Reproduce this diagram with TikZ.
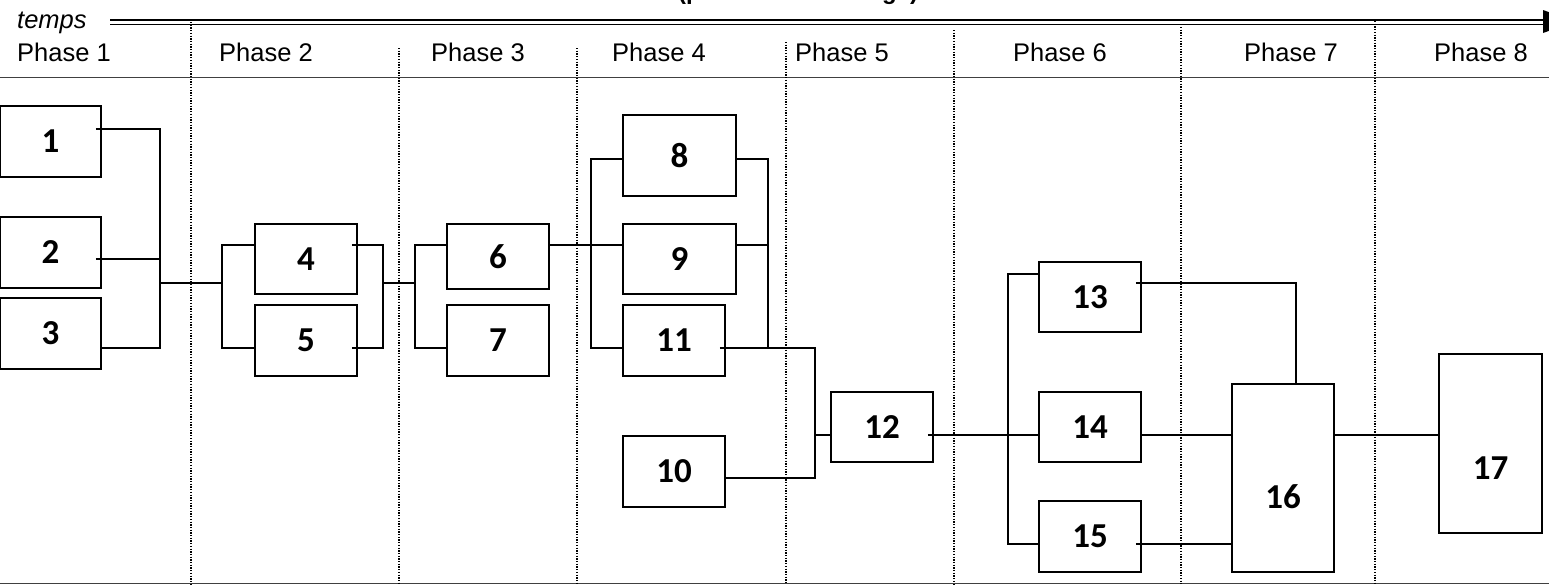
\documentclass[tikz,border=0pt]{standalone}
\usepackage{fontspec}
\setmainfont{Liberation Sans}
\newfontfamily\numfont{Carlito}
\usetikzlibrary{calc}
\begin{document}
\begin{tikzpicture}[x=1pt,y=-1pt,
  box/.style={draw, line width=1.8pt, inner sep=0pt, font=\numfont\bfseries\fontsize{35}{35}\selectfont},
  boxtext/.style={inner sep=0pt, font=\numfont\bfseries\fontsize{35}{35}\selectfont},
  conn/.style={line width=1.5pt},
  thickseg/.style={line width=2.3pt},
  divider/.style={line width=1.3pt, dash pattern=on 1.3pt off 1.4pt},
  phaselbl/.style={anchor=base west, inner sep=0pt, font=\fontsize{25.5}{26}\selectfont},
  rule/.style={line width=1pt, black!75}]
\useasboundingbox (0,0) rectangle (1549,584);

% ---- header ----
\node[anchor=base west, inner sep=0pt, font=\bfseries\fontsize{24}{24}\selectfont] (title) at (678,-1) {(phases de montage)};
\node[anchor=base west, inner sep=0pt, font=\itshape\fontsize{25.5}{26}\selectfont] (temps) at (17,28) {temps};
\coordinate (ta) at (110,20);
\coordinate (tb) at (1545,20);
\coordinate (tc) at (110,24.5);
\coordinate (td) at (1545,24.5);
\draw[line width=2pt] (ta) -- (tb);
\draw[line width=1.3pt] (tc) -- (td);
\fill (1543,10) -- (1575,21.5) -- (1543,33) -- cycle;

\node[phaselbl] (p1) at (17,61) {Phase 1};
\node[phaselbl] (p2) at (219,61) {Phase 2};
\node[phaselbl] (p3) at (431,61) {Phase 3};
\node[phaselbl] (p4) at (612,61) {Phase 4};
\node[phaselbl] (p5) at (795,61) {Phase 5};
\node[phaselbl] (p6) at (1013,61) {Phase 6};
\node[phaselbl] (p7) at (1244,61) {Phase 7};
\node[phaselbl] (p8) at (1434,61) {Phase 8};

\draw[rule] (0,77.7) -- (1549,77.7);
\draw[rule] (0,583.3) -- (1549,583.3);

\draw[divider] (191,22) -- (191,584);
\draw[divider] (399,48) -- (399,584);
\draw[divider] (577,48) -- (577,584);
\draw[divider] (786,42) -- (786,584);
\draw[divider] (954,30) -- (954,584);
\draw[divider] (1181,27) -- (1181,584);
\draw[divider] (1375,21) -- (1375,584);

% ---- boxes ----
\node[box, minimum width=101pt, minimum height=71pt] (b1) at (50.5,141.5) {1};
\node[box, minimum width=101pt, minimum height=71pt] (b2) at (50.5,252.5) {2};
\node[box, minimum width=101pt, minimum height=71pt] (b3) at (50.5,333.5) {3};
\node[box, minimum width=102pt, minimum height=70pt] (b4) at (306,259) {4};
\node[box, minimum width=102pt, minimum height=71pt] (b5) at (306,340.5) {5};
\node[box, minimum width=102pt, minimum height=65pt] (b6) at (498,256.5) {6};
\node[box, minimum width=102pt, minimum height=71pt] (b7) at (498,340.5) {7};
\node[box, minimum width=113pt, minimum height=81pt] (b8) at (679.5,155.5) {8};
\node[box, minimum width=113pt, minimum height=70pt] (b9) at (679.5,259) {9};
\node[box, minimum width=102pt, minimum height=71pt] (b11) at (674,340.5) {11};
\node[box, minimum width=102pt, minimum height=71pt] (b10) at (674,471.5) {10};
\node[box, minimum width=102pt, minimum height=70pt] (b12) at (882,427) {12};
\node[box, minimum width=102pt, minimum height=70pt] (b13) at (1090,297) {13};
\node[box, minimum width=102pt, minimum height=70pt] (b14) at (1090,427) {14};
\node[box, minimum width=102pt, minimum height=71pt] (b15) at (1090,536.5) {15};
\node[box, minimum width=102pt, minimum height=188pt] (b16) at (1283,478) {};
\node[boxtext] (t16) at (1283,497) {16};
\node[box, minimum width=103pt, minimum height=179pt] (b17) at (1490.5,443.5) {};
\node[boxtext] (t17) at (1490.5,468) {17};

% ---- junction points ----
\coordinate (m1) at (160,283);
\coordinate (s4) at (222,283);
\coordinate (e4) at (383,283);
\coordinate (s6) at (415,283);
\coordinate (s8) at (591,245);
\coordinate (e8) at (768,348);
\coordinate (s12) at (815,435);
\coordinate (s13) at (1008,435);
\coordinate (k1a) at (160,129);
\coordinate (k1b) at (160,318);
\coordinate (k2b) at (1008,492);

% ---- connectors ----
\draw[conn] ($(b1.east)+(-6,-12.5)$) -| (m1);
\draw[conn] ($(b2.east)+(-6,6.5)$) -| (m1);
\draw[conn] ($(b3.east)+(0,14.5)$) -| (m1);
\draw[thickseg] (k1a) -- (k1b);
\draw[conn] (m1) -- (s4);
\draw[conn] ($(b4.west)+(0,-14)$) -| (s4);
\draw[conn] ($(b5.west)+(0,7.5)$) -| (s4);
\draw[conn] ($(b4.east)+(-6,-14)$) -| (e4);
\draw[conn] ($(b5.east)+(-6,7.5)$) -| (e4);
\draw[conn] (e4) -- (s6);
\draw[conn] ($(b6.west)+(0,-11.5)$) -| (s6);
\draw[conn] ($(b7.west)+(0,7.5)$) -| (s6);
\draw[conn] ($(b6.east)+(0,-11.5)$) -- ($(b9.west)+(0,-14)$);
\draw[conn] ($(b8.west)+(0,3.5)$) -| (s8);
\draw[conn] ($(b11.west)+(0,7.5)$) -| (s8);
\draw[conn] ($(b8.east)+(0,3.5)$) -| (e8);
\draw[conn] ($(b9.east)+(0,-14)$) -| (e8);
\draw[conn] ($(b11.east)+(-6,7.5)$) -| (s12);
\draw[conn] ($(b10.east)+(0,6.5)$) -| (s12);
\draw[conn] (s12) -- (b12.west |- s12);
\draw[conn] ($(b12.east)+(-6,8)$) -- (s13);
\draw[conn] (s13) -- (b14.west |- s13);
\draw[conn] ($(b13.west)+(0,-23)$) -| (s13);
\draw[conn] ($(b15.west)+(0,7.5)$) -| (s13);
\draw[thickseg] (s13) -- (k2b);
\draw[conn] ($(b13.east)+(-6,-14)$) -| ($(b16.north)+(13,0)$);
\draw[conn] ($(b14.east)+(0,8)$) -- ($(b16.west)+(0,-43)$);
\draw[conn] ($(b15.east)+(-6,7.5)$) -- ($(b16.west)+(0,66)$);
\draw[conn] ($(b16.east)+(0,-43)$) -- ($(b17.west)+(0,-8.5)$);
\end{tikzpicture}
\end{document}
